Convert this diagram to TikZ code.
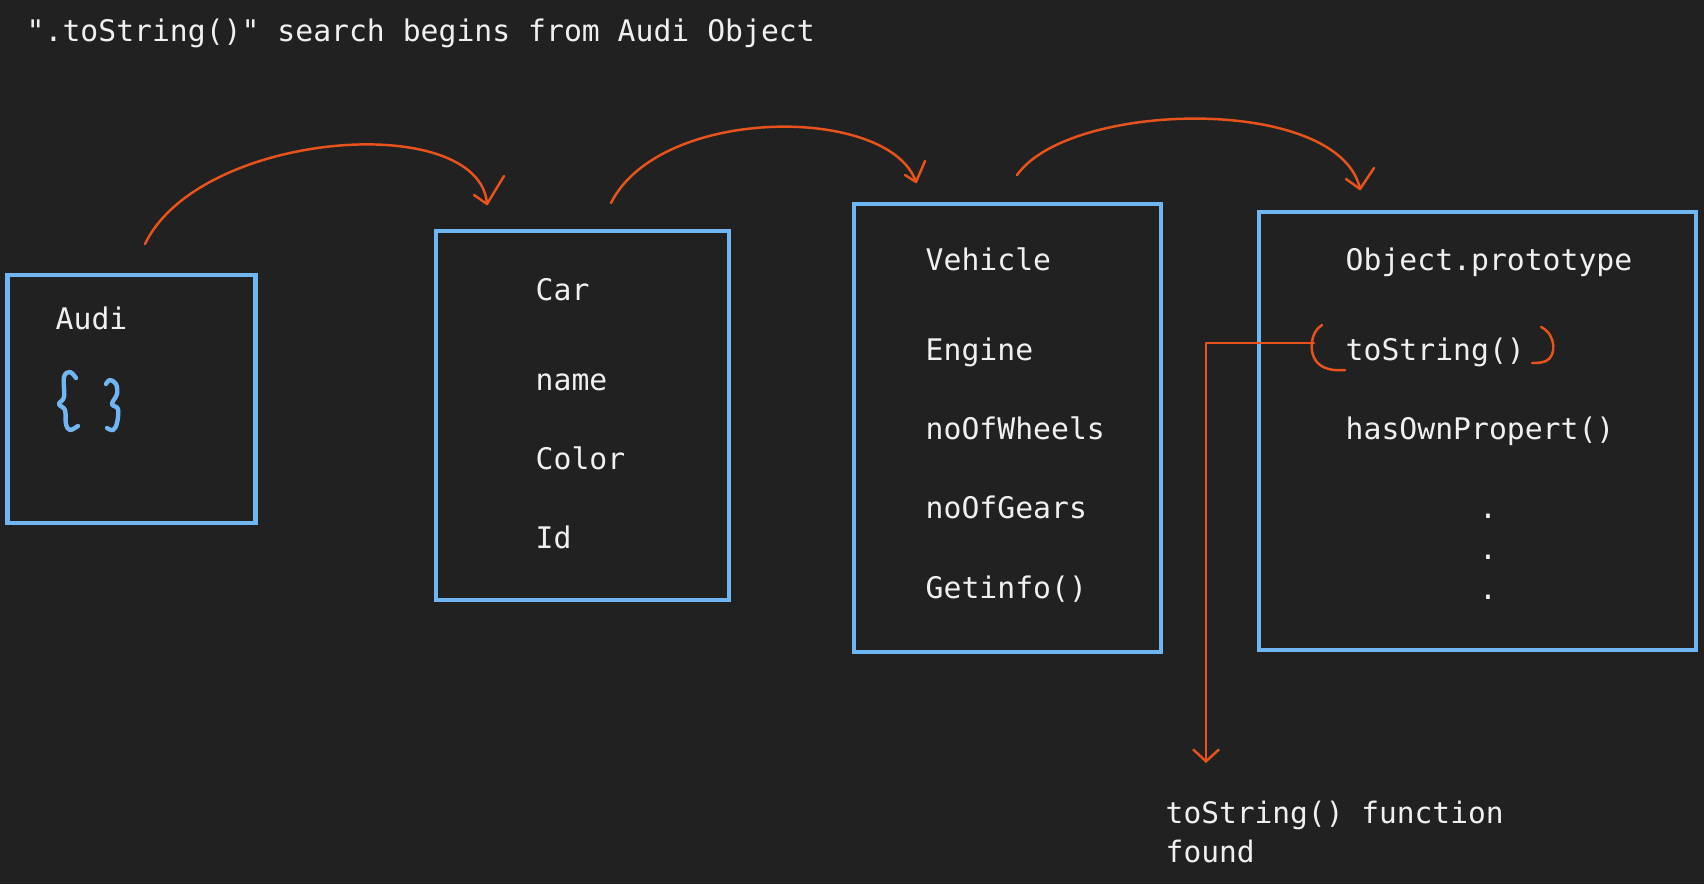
\documentclass[tikz,border=0pt]{standalone}
\usepackage{fontspec}
\setmonofont{DejaVu Sans Mono}
\usepackage{tikz}
\usetikzlibrary{arrows.meta}
\definecolor{bgcolor}{HTML}{212121}
\definecolor{boxblue}{HTML}{6FB6F2}
\definecolor{inkorange}{HTML}{E8531C}
\definecolor{textwhite}{HTML}{F0F0F0}

\begin{document}
\begin{tikzpicture}[x=0.01cm, y=-0.01cm,
        protobox/.style={rectangle, draw=boxblue, line width=1.25pt, inner sep=0pt},
        member/.style={anchor=base west, inner sep=0pt, text=textwhite, font=\ttfamily\fontsize{8.46}{10}\selectfont},
        note/.style={member, font=\ttfamily\fontsize{8.4}{10}\selectfont},
        chain/.style={draw=inkorange, line width=0.7pt, line cap=round, line join=round},
        curly/.style={draw=boxblue, line width=1.25pt, line cap=round, line join=round}
    ]
        \fill[bgcolor] (0,0) rectangle (1704,884);
        \useasboundingbox (0,0) rectangle (1704,884);

        \node[member] (title) at (26,41) {".toString()" search begins from Audi Object};

        % the prototype chain
        \node[protobox, minimum width=2.48cm, minimum height=2.48cm] (audi) at (131.5,399) {};
        \node[protobox, minimum width=2.93cm, minimum height=3.69cm] (car) at (582.5,415.5) {};
        \node[protobox, minimum width=3.07cm, minimum height=4.48cm] (vehicle) at (1007.5,428) {};
        \node[protobox, minimum width=4.37cm, minimum height=4.38cm] (objproto) at (1477.5,431) {};

        \node[member] (audiname) at (55,329) {Audi};
        \draw[curly] plot[smooth, tension=0.6] coordinates {(76,378) (70,372) (64,377) (64,397) (59,404) (65,410) (66,424) (70,430) (78,426)};
        \draw[curly] plot[smooth, tension=0.6] coordinates {(106,384) (110,380) (116,384) (117,394) (112,404) (118,409) (117,423) (113,430) (107,428)};

        \foreach \i/\txt/\y in {1/Car/300,2/name/390,3/Color/469,4/Id/548}
            \node[member] (car\i) at (535,\y) {\txt};

        \foreach \i/\txt/\y in {1/Vehicle/270,2/Engine/360,3/noOfWheels/439,4/noOfGears/518,5/Getinfo()/598}
            \node[member] (vehicle\i) at (925,\y) {\txt};

        \foreach \i/\txt/\y in {1/Object.prototype/270,2/toString()/360,3/hasOwnPropert()/439}
            \node[member] (objproto\i) at (1345,\y) {\txt};

        \foreach \i/\y in {1/518,2/559,3/599}
            \node[member, anchor=base] (dot\i) at (1488,\y) {.};

        % lookup hops
        \coordinate (audiout) at (145,244);
        \coordinate (carin) at (487,204);
        \coordinate (carout) at (611,203);
        \coordinate (vehiclein) at (916,182);
        \coordinate (vehicleout) at (1017,175);
        \coordinate (objprotoin) at (1360,189);

        \draw[chain] (audiout) .. controls (200,130) and (480,110) .. (carin);
        \draw[chain] ([shift={(-13,-9)}]carin) -- (carin) -- ([shift={(17,-28)}]carin);

        \draw[chain] (carout) .. controls (660,105) and (890,105) .. (vehiclein);
        \draw[chain] ([shift={(-11,-7)}]vehiclein) -- (vehiclein) -- ([shift={(9,-21)}]vehiclein);

        \draw[chain] (vehicleout) .. controls (1070,100) and (1340,95) .. (objprotoin);
        \draw[chain] ([shift={(-14,-10)}]objprotoin) -- (objprotoin) -- ([shift={(14,-21)}]objprotoin);

        % found it
        \draw[chain] (1322,325) .. controls (1310,332) and (1309,352) .. (1316,361) .. controls (1322,369) and (1333,371) .. (1345,370);
        \draw[chain] (1541,327) .. controls (1556,334) and (1557,356) .. (1546,361) .. controls (1541,363) and (1536,363) .. (1532,363);

        \coordinate (hit) at (1314,343);
        \coordinate (foundtip) at (1206,763);
        \draw[chain, -{Straight Barb[length=1.2mm, width=2.6mm]}] (hit) -| (foundtip);

        \node[note] (found) at (1165,823) {toString() function};
        \node[note] (foundb) at (1165,862) {found};
    \end{tikzpicture}
\end{document}
